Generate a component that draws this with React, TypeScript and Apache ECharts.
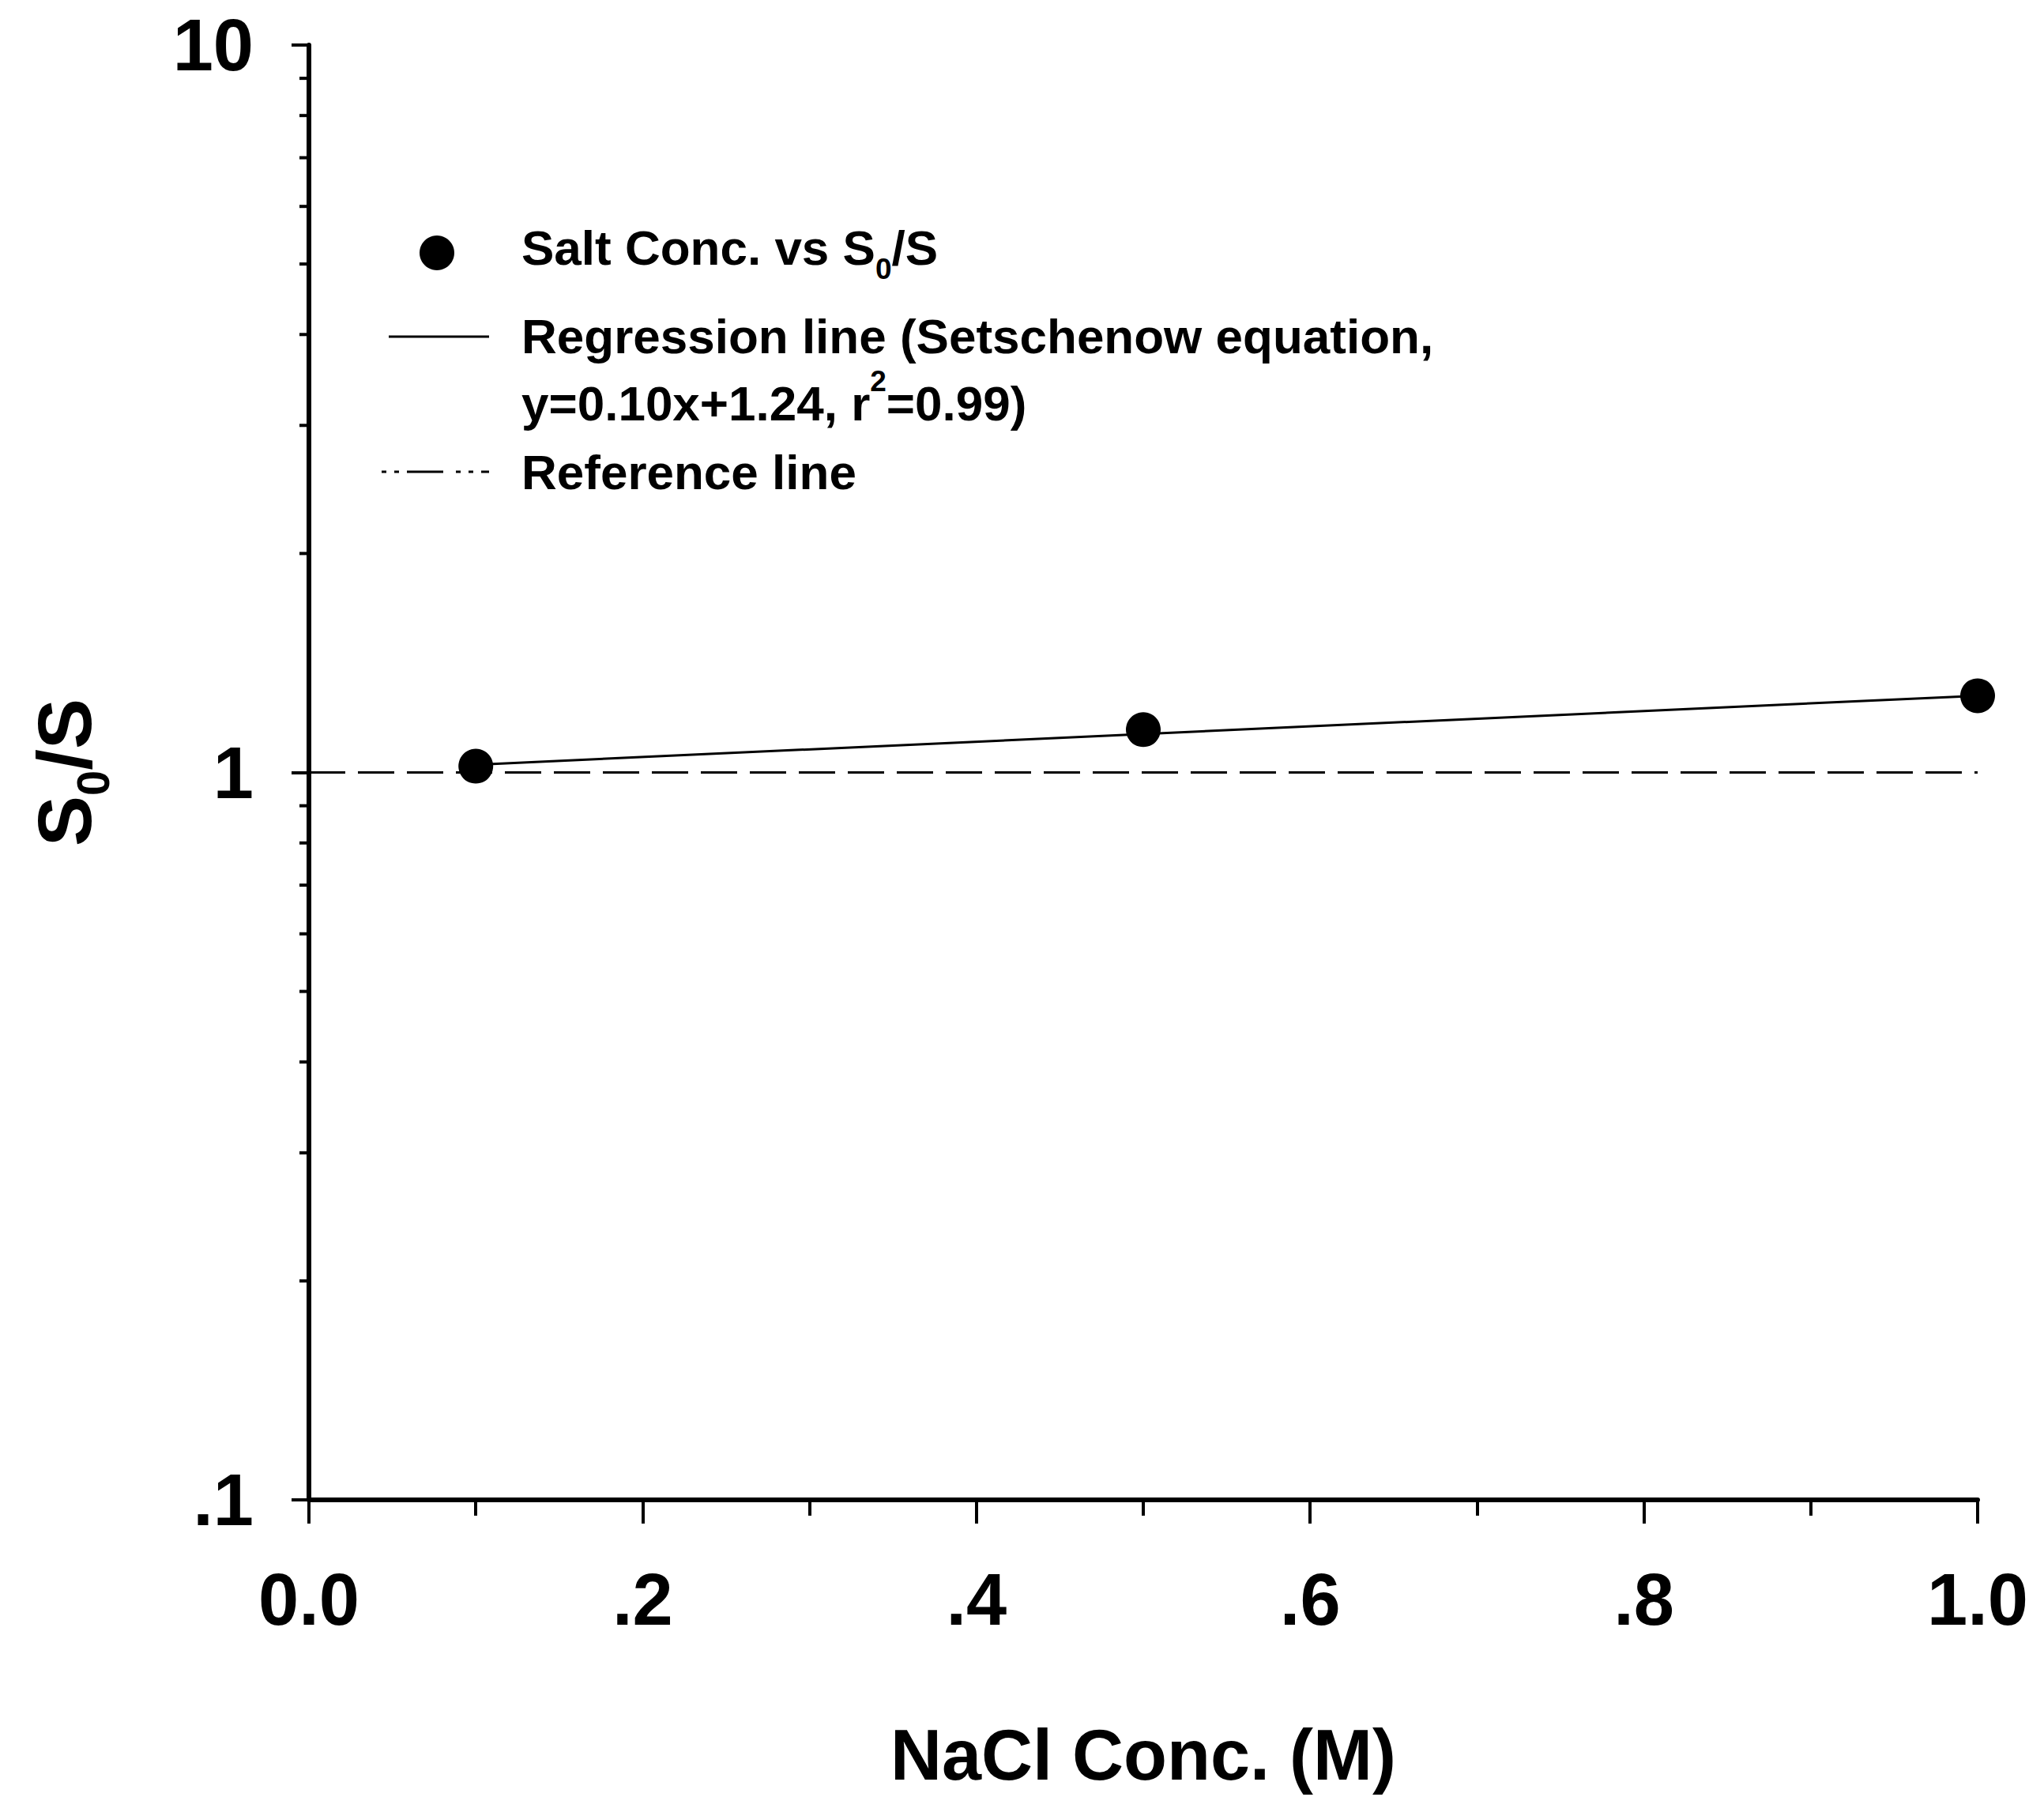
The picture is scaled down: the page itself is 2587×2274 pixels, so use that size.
import React, { useEffect, useRef } from 'react';
import * as echarts from 'echarts';

// ---- data ----
const naclConc = [0.1, 0.5, 1.0];
const s0OverS = [1.02, 1.145, 1.275];
const regressionX = [0.1, 1.0];
const regressionY = [1.025, 1.275];
const referenceX = [0, 1.0];
const referenceY = [1, 1];
const xTickLabels = ['0.0', '.2', '.4', '.6', '.8', '1.0'];
const yTickLabels = ['.1', '1', '10'];
const yMinorTicks = [0.2, 0.3, 0.4, 0.5, 0.6, 0.7, 0.8, 0.9, 2, 3, 4, 5, 6, 7, 8, 9];
const legendTexts = [
  '{t|Salt Conc. vs S}{sub|0}{t|/S}',
  '{t|Regression line (Setschenow equation,}',
  '{t|y=0.10x+1.24, r}{sup|2}{t|=0.99)}',
  '{t|Reference line}',
];

const FONT = "'Liberation Sans', Arial, Helvetica, sans-serif";

export default function App() {
  const ref = useRef<HTMLDivElement>(null);

  useEffect(() => {
    document.body.style.margin = '0';
    if (!ref.current) return;
    const chart = echarts.init(ref.current, null, { renderer: 'svg' });

    const legendRich = {
      t: { fontFamily: FONT, fontWeight: 'bold', fontSize: 62, lineHeight: 92, color: '#000' },
      sub: { fontFamily: FONT, fontWeight: 'bold', fontSize: 37, verticalAlign: 'bottom', color: '#000' },
      sup: { fontFamily: FONT, fontWeight: 'bold', fontSize: 37, verticalAlign: 'top', color: '#000' },
    };

    const legendRowsY = [313, 425, 510, 597];

    const graphic: any[] = [
      { type: 'circle', shape: { cx: 553, cy: 320, r: 22 }, style: { fill: '#000' }, z: 10 },
      { type: 'line', shape: { x1: 492, y1: 426, x2: 619, y2: 426 }, style: { stroke: '#000', lineWidth: 3 }, z: 10 },
      {
        type: 'line',
        shape: { x1: 483, y1: 597, x2: 619, y2: 597 },
        style: { stroke: '#000', lineWidth: 3, lineDash: [6, 10, 6, 10, 46, 16] },
        z: 10,
      },
    ];
    legendTexts.forEach((txt, i) => {
      graphic.push({
        type: 'text',
        x: 660,
        y: legendRowsY[i],
        z: 10,
        style: {
          text: txt,
          verticalAlign: 'middle',
          align: 'left',
          rich: legendRich,
        },
      });
    });

    const option: any = {
      animation: false,
      backgroundColor: '#fff',
      grid: { left: 391, right: 84, top: 57, bottom: 376, containLabel: false },
      xAxis: {
        type: 'value',
        min: 0,
        max: 1,
        interval: 0.2,
        name: 'NaCl Conc. (M)',
        nameLocation: 'middle',
        nameGap: 278,
        nameTextStyle: { fontFamily: FONT, fontWeight: 'bold', fontSize: 90, color: '#000' },
        axisLine: { show: true, onZero: false, lineStyle: { color: '#000', width: 6 } },
        axisTick: { show: true, inside: false, length: 30, lineStyle: { color: '#000', width: 4 } },
        minorTick: { show: true, splitNumber: 2, length: 20, lineStyle: { color: '#000', width: 4 } },
        splitLine: { show: false },
        minorSplitLine: { show: false },
        axisLabel: {
          margin: 80,
          fontFamily: FONT,
          fontWeight: 'bold',
          fontSize: 92,
          color: '#000',
          formatter: (v: number) => xTickLabels[Math.round(v / 0.2)] ?? '',
        },
      },
      yAxis: {
        type: 'log',
        logBase: 10,
        min: 0.1,
        max: 10,
        name: '{t|S}{sub|0}{t|/S}',
        nameLocation: 'middle',
        nameRotate: 90,
        nameGap: 245,
        nameTextStyle: {
          rich: {
            t: { fontFamily: FONT, fontWeight: 'bold', fontSize: 96, lineHeight: 130, color: '#000' },
            sub: { fontFamily: FONT, fontWeight: 'bold', fontSize: 58, verticalAlign: 'bottom', color: '#000' },
          },
        },
        axisLine: { show: true, onZero: false, lineStyle: { color: '#000', width: 6 } },
        axisTick: { show: true, inside: false, length: 22, lineStyle: { color: '#000', width: 4 } },
        splitLine: { show: false },
        axisLabel: {
          margin: 70,
          fontFamily: FONT,
          fontWeight: 'bold',
          fontSize: 92,
          color: '#000',
          formatter: (v: number) => yTickLabels[Math.round(Math.log10(v)) + 1] ?? '',
        },
      },
      graphic,
      series: [
        {
          type: 'line',
          name: 'Reference line',
          data: referenceX.map((x, i) => [x, referenceY[i]]),
          showSymbol: false,
          symbol: 'none',
          lineStyle: { color: '#000', width: 3, type: [46, 16] },
          z: 2,
        },
        {
          type: 'line',
          name: 'Regression line',
          data: regressionX.map((x, i) => [x, regressionY[i]]),
          showSymbol: false,
          symbol: 'none',
          lineStyle: { color: '#000', width: 3, type: 'solid' },
          z: 3,
        },
        {
          type: 'scatter',
          name: 'Salt Conc. vs S0/S',
          data: naclConc.map((x, i) => [x, s0OverS[i]]),
          symbol: 'circle',
          symbolSize: 44,
          itemStyle: { color: '#000', opacity: 1 },
          z: 4,
        },
        {
          type: 'custom',
          name: 'y minor ticks',
          clip: false,
          silent: true,
          data: yMinorTicks.map((v) => [0, v]),
          renderItem: (params: any, api: any) => {
            const p = api.coord([0, api.value(1)]);
            return {
              type: 'line',
              shape: { x1: p[0] - 12, y1: p[1], x2: p[0], y2: p[1] },
              style: { stroke: '#000', lineWidth: 4 },
            };
          },
          z: 5,
        },
      ],
    };

    chart.setOption(option);
    return () => chart.dispose();
  }, []);

  return (
    <div
      ref={ref}
      style={{ position: 'fixed', left: 0, top: 0, width: 2587, height: 2274, background: '#fff' }}
    />
  );
}
